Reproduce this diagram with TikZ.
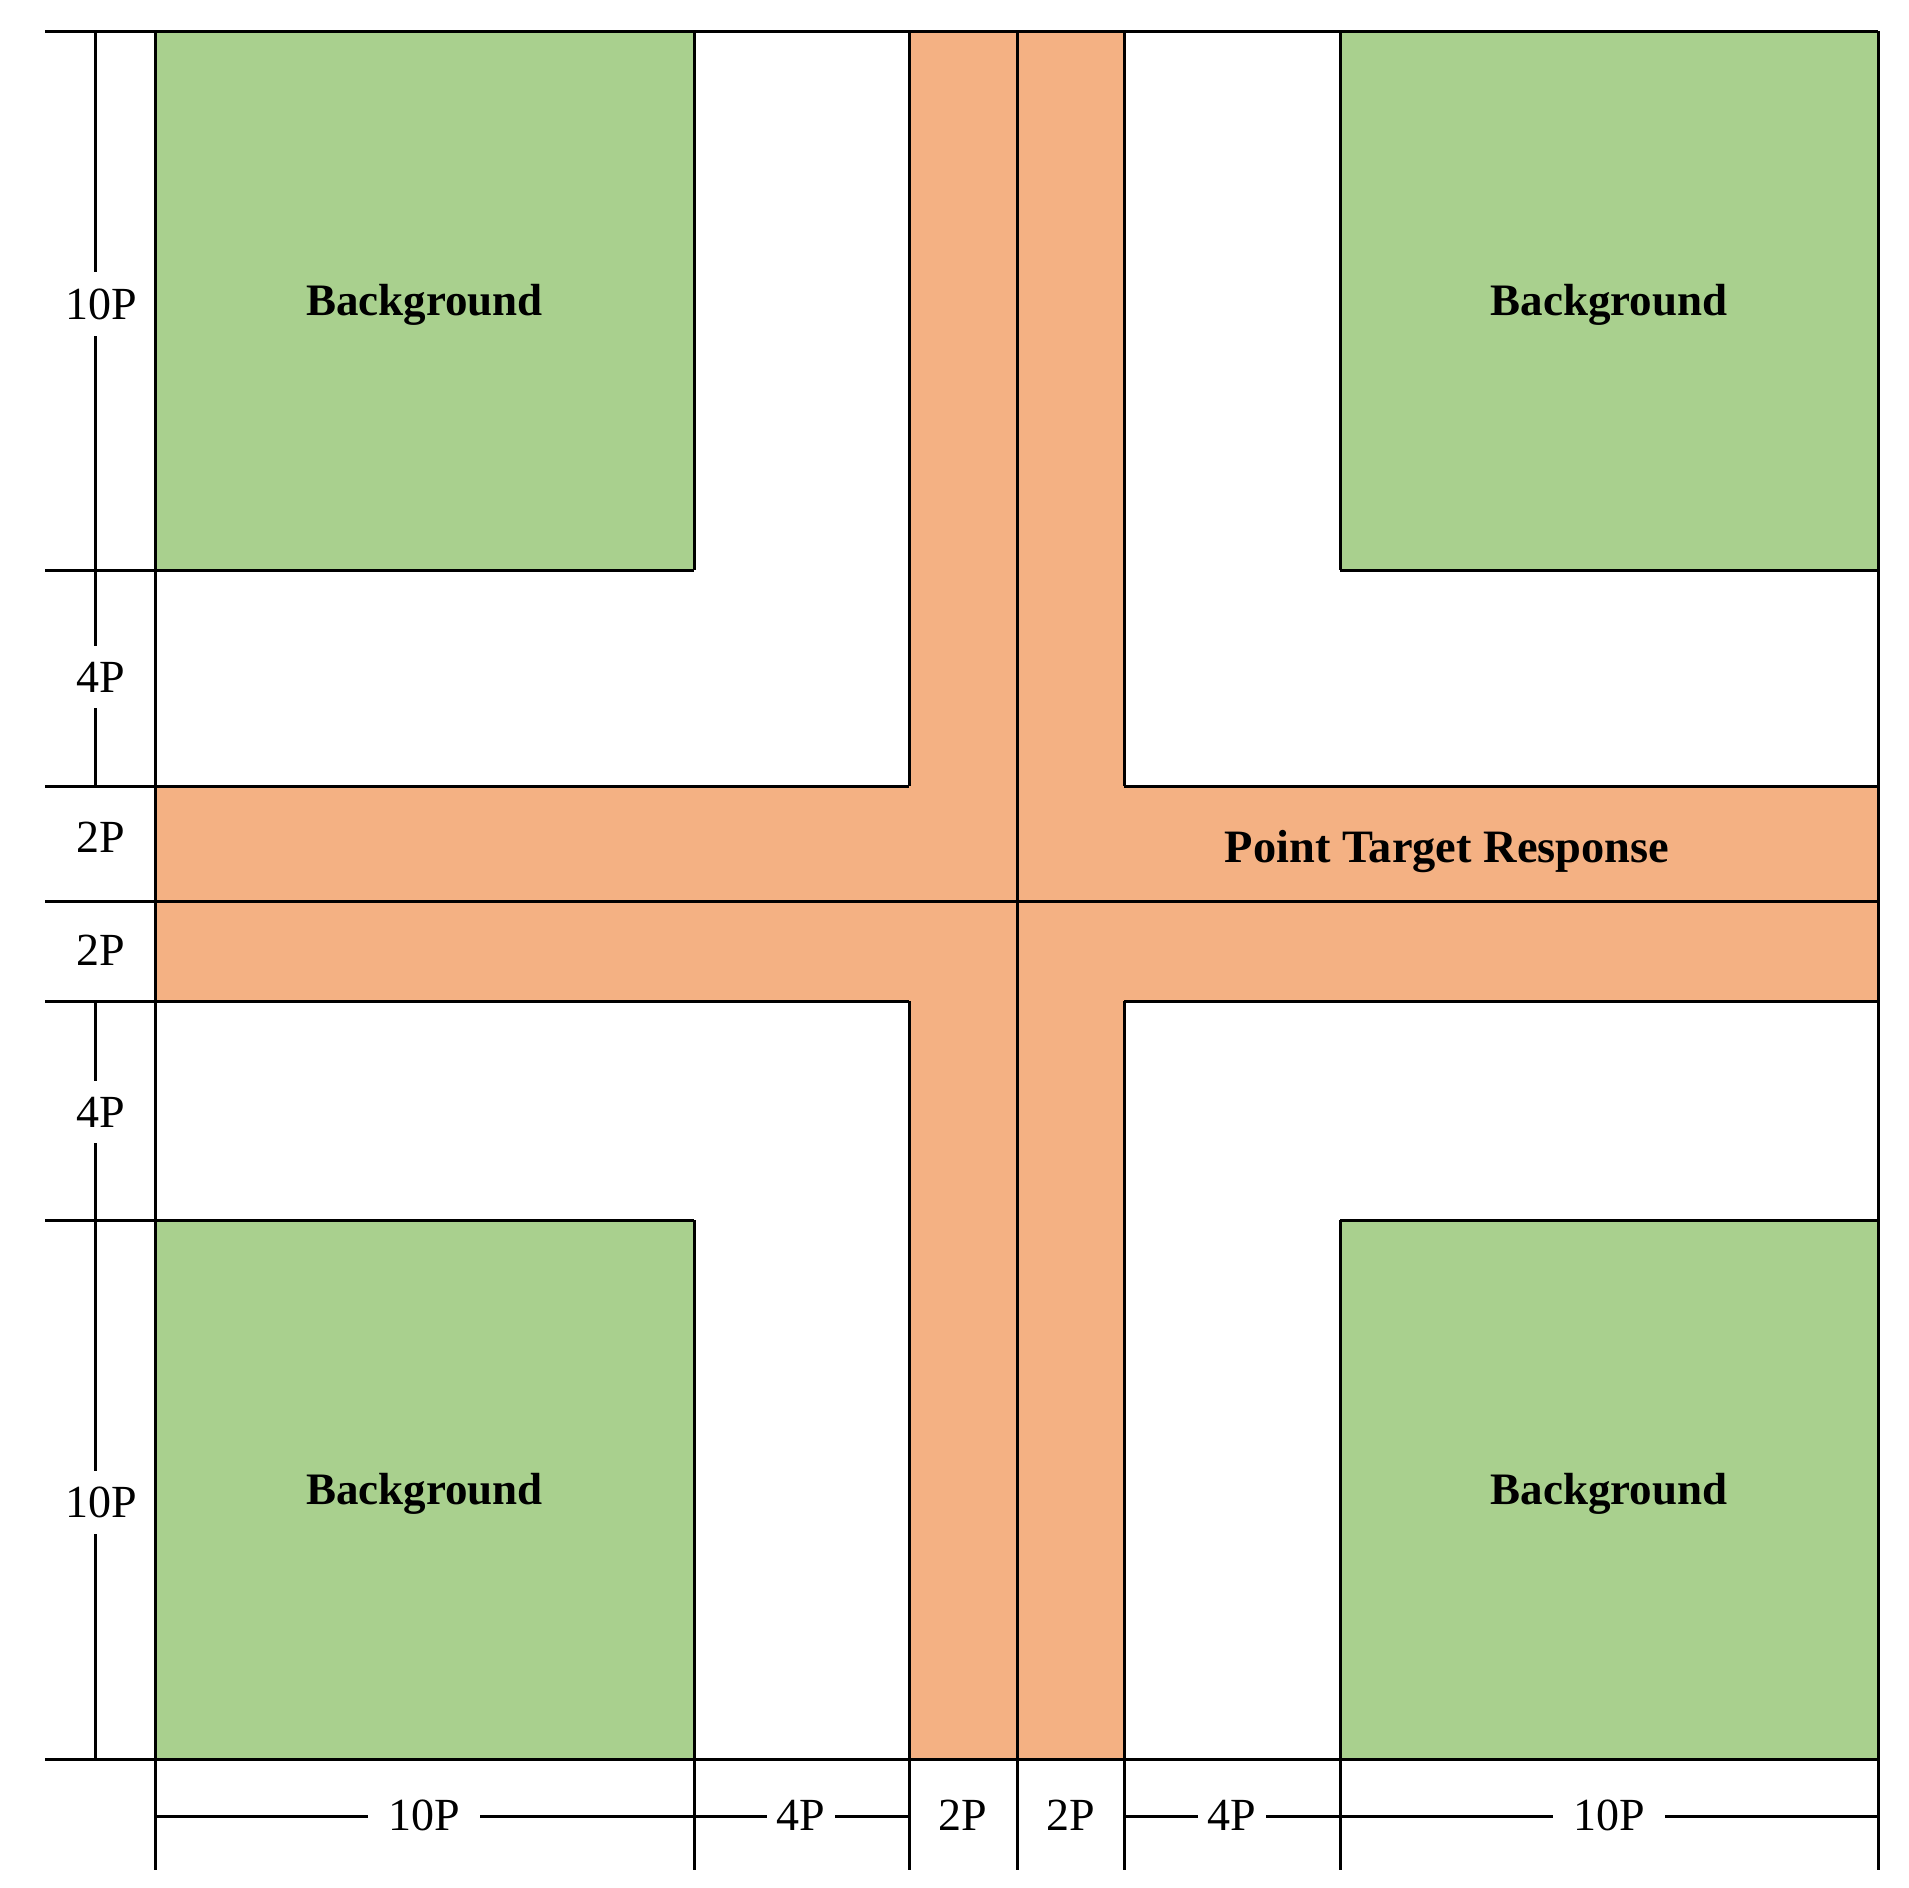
\documentclass[tikz,border=0pt]{standalone}
\usepackage{fontspec}
\setmainfont{Liberation Serif}
\definecolor{bggreen}{HTML}{A9D08E}
\definecolor{ptorange}{HTML}{F4B183}
\tikzset{
  edge/.style={line width=1.5pt, black},
  dimlab/.style={font=\fontsize{23}{27}\selectfont, fill=white, inner xsep=1pt, inner ysep=8pt},
  hdimlab/.style={font=\fontsize{23}{27}\selectfont, fill=white, inner xsep=5pt, inner ysep=1pt},
  boldlab/.style={font=\fontsize{22.5}{27}\selectfont\bfseries, inner sep=0pt},
}
\begin{document}
\begin{tikzpicture}[x=0.5pt,y=-0.5pt]
\useasboundingbox (0,0) rectangle (1909,1887);
% fills
\fill[bggreen] (155,31) rectangle (694,570);
\fill[bggreen] (1340,31) rectangle (1878,570);
\fill[bggreen] (155,1220) rectangle (694,1759);
\fill[bggreen] (1340,1220) rectangle (1878,1759);
\fill[ptorange] (909,31) rectangle (1124,1759);
\fill[ptorange] (155,786) rectangle (1878,1001);
% outline lines
\draw[edge] (45,31) -- (1878,31);
\draw[edge] (1878,31) -- (1878,1870);
\draw[edge] (155,31) -- (155,1870);
\draw[edge] (45,1759) -- (1878,1759);
\draw[edge] (45,570) -- (694,570);
\draw[edge] (1340,570) -- (1878,570);
\draw[edge] (45,1220) -- (694,1220);
\draw[edge] (1340,1220) -- (1878,1220);
\draw[edge] (694,31) -- (694,570);
\draw[edge] (694,1220) -- (694,1870);
\draw[edge] (1340,31) -- (1340,570);
\draw[edge] (1340,1220) -- (1340,1870);
\draw[edge] (909,31) -- (909,786);
\draw[edge] (909,1001) -- (909,1870);
\draw[edge] (1124,31) -- (1124,786);
\draw[edge] (1124,1001) -- (1124,1870);
\draw[edge] (1017,31) -- (1017,1870);
\draw[edge] (45,786) -- (909,786);
\draw[edge] (1124,786) -- (1878,786);
\draw[edge] (45,1001) -- (909,1001);
\draw[edge] (1124,1001) -- (1878,1001);
\draw[edge] (45,901) -- (1878,901);
% dimension lines
\draw[edge] (95,31) -- (95,786);
\draw[edge] (95,1001) -- (95,1759);
\draw[edge] (155,1816) -- (909,1816);
\draw[edge] (1124,1816) -- (1878,1816);
% left labels
\node[dimlab] (l1) at (101,304) {10P};
\node[dimlab] (l2) at (101,677) {4P};
\node[dimlab] (l3) at (101,837) {2P};
\node[dimlab] (l4) at (101,950) {2P};
\node[dimlab] (l5) at (101,1112) {4P};
\node[dimlab] (l6) at (101,1502) {10P};
% bottom labels
\node[hdimlab, inner xsep=10pt] (d1) at (424,1815) {10P};
\node[hdimlab] (d2) at (801,1815) {4P};
\node[hdimlab] (d3) at (963,1815) {2P};
\node[hdimlab] (d4) at (1071,1815) {2P};
\node[hdimlab] (d5) at (1232,1815) {4P};
\node[hdimlab, inner xsep=10pt] (d6) at (1609,1815) {10P};
% region labels
\node[boldlab] (bg1) at (424.5,305) {Background};
\node[boldlab] (bg2) at (1609,305) {Background};
\node[boldlab] (bg3) at (424.5,1494) {Background};
\node[boldlab] (bg4) at (1609,1494) {Background};
\node[boldlab, font=\fontsize{23.2}{27}\selectfont\bfseries] (ptr) at (1447,851) {Point Target Response};
\end{tikzpicture}
\end{document}
